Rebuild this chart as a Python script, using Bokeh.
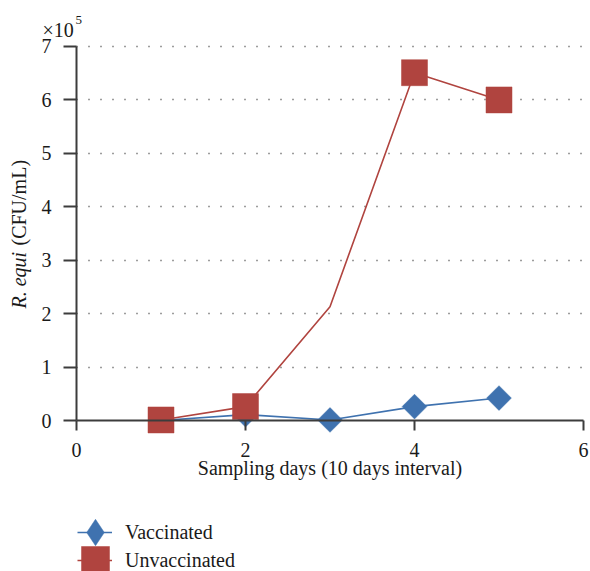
import math
from bokeh.plotting import figure
from bokeh.models import (Range1d, FixedTicker, Label, Legend, LegendItem,
                          ColumnDataSource, CDSView, BooleanFilter)
from bokeh.embed import file_html
from bokeh.resources import INLINE

# ---- data (values in units of 10^5 CFU/mL) ----
days = [1, 2, 3, 4, 5]
vaccinated = [0.0, 0.11, 0.01, 0.26, 0.42]
unvaccinated = [0.01, 0.26, 2.13, 6.51, 6.0]
unvacc_marker_shown = [True, True, False, True, True]
x_ticks = [0, 2, 4, 6]
y_ticks = [0, 1, 2, 3, 4, 5, 6, 7]
x_bounds = (0, 6)
y_bounds = (0, 7)

BLUE = "#3F72AF"
RED = "#B0443F"
FONT = "Liberation Serif"
AXIS_COLOR = "#3c3c3c"
TXT = "#1a1a1a"

W, H = 590, 571
# frame covers the whole canvas; axes are drawn at fixed locations inside it
x_px0, x_unit = 76.0, 84.5      # pixel of x=0, pixels per x unit
y_px0, y_unit = 420.0, 53.4286  # pixel of y=0 (from top), pixels per y unit
xr = Range1d(-x_px0 / x_unit, (W - x_px0) / x_unit)
yr = Range1d(-(H - y_px0) / y_unit, y_px0 / y_unit)

p = figure(width=W, height=H, x_range=xr, y_range=yr,
           output_backend="svg", toolbar_location=None,
           min_border=0, min_border_left=0, min_border_right=0,
           min_border_top=0, min_border_bottom=0)
p.outline_line_color = None
p.background_fill_color = "white"
p.border_fill_color = "white"

# grid
p.xgrid.visible = False
p.ygrid.ticker = FixedTicker(ticks=y_ticks[1:])
p.ygrid.cross_bounds = x_bounds
p.ygrid.grid_line_color = "#3a3a3a"
p.ygrid.grid_line_width = 1.6
p.ygrid.grid_line_dash = "1 11"

# x axis at y = 0
xa = p.xaxis[0]
xa.ticker = FixedTicker(ticks=x_ticks)
xa.fixed_location = 0
xa.bounds = x_bounds
xa.axis_line_color = AXIS_COLOR
xa.axis_line_width = 2
xa.major_tick_line_color = AXIS_COLOR
xa.major_tick_line_width = 2
xa.major_tick_in = 0
xa.major_tick_out = 10
xa.minor_tick_line_color = None
xa.major_label_text_font = FONT
xa.major_label_text_font_size = "20px"
xa.major_label_text_color = TXT
xa.major_label_standoff = 12
xa.axis_label = "Sampling days (10 days interval)"
xa.axis_label_text_font = FONT
xa.axis_label_text_font_size = "20px"
xa.axis_label_text_font_style = "normal"
xa.axis_label_text_color = TXT
xa.axis_label_standoff = -3

# y axis at x = 0
ya = p.yaxis[0]
ya.ticker = FixedTicker(ticks=y_ticks)
ya.fixed_location = 0
ya.bounds = y_bounds
ya.axis_line_color = AXIS_COLOR
ya.axis_line_width = 2
ya.major_tick_line_color = AXIS_COLOR
ya.major_tick_line_width = 2
ya.major_tick_in = 0
ya.major_tick_out = 13
ya.minor_tick_line_color = None
ya.major_label_text_font = FONT
ya.major_label_text_font_size = "20px"
ya.major_label_text_color = TXT
ya.major_label_standoff = 12

# series
src_v = ColumnDataSource(dict(x=days, y=vaccinated))
src_u = ColumnDataSource(dict(x=days, y=unvaccinated))
src_v_key = ColumnDataSource(dict(x=days[:1], y=vaccinated[:1]))

lv = p.line("x", "y", source=src_v, line_color=BLUE, line_width=1.6)
sv = p.scatter("x", "y", source=src_v, marker="square", angle=math.pi / 4, size=17.5,
               fill_color=BLUE, line_color=BLUE, line_width=0.5)
# diamond used for the legend swatch (legend swatches ignore marker angle);
# its one point sits under the first unvaccinated square
sv_key = p.scatter("x", "y", source=src_v_key, marker="diamond", size=22,
                   fill_color=BLUE, line_color=BLUE, line_width=0.5)
lu = p.line("x", "y", source=src_u, line_color=RED, line_width=1.6)
su = p.scatter("x", "y", source=src_u, marker="square", size=26,
               fill_color=RED, line_color=RED, line_width=0.5,
               view=CDSView(filter=BooleanFilter(unvacc_marker_shown)))

# y-axis title (mixed italic)
p.add_layout(Label(x=-0.6746, y=2.096, text="R. equi", angle=math.pi / 2,
                   text_align="left", text_baseline="middle", text_font=FONT,
                   text_font_style="italic", text_font_size="20px", text_color=TXT))
p.add_layout(Label(x=-0.6746, y=3.275, text="(CFU/mL)", angle=math.pi / 2,
                   text_align="left", text_baseline="middle", text_font=FONT,
                   text_font_size="20px", text_color=TXT))
# multiplier
p.add_layout(Label(x=-0.4024, y=7.318, text="×10", text_align="left", text_baseline="alphabetic",
                   text_font=FONT, text_font_size="20px", text_color=TXT))
p.add_layout(Label(x=-0.0118, y=7.487, text="5", text_align="left", text_baseline="alphabetic",
                   text_font=FONT, text_font_size="13px", text_color=TXT))

# legends: lines with labels, markers overlaid at the same centres
def base_legend(**kw):
    return Legend(border_line_color=None, background_fill_alpha=0, padding=0, margin=0,
                  spacing=0, label_text_font=FONT, label_text_font_size="20px",
                  label_text_color=TXT, **kw)

leg_lines = base_legend(items=[LegendItem(label="Vaccinated", renderers=[lv]),
                               LegendItem(label="Unvaccinated", renderers=[lu])],
                        glyph_width=35, glyph_height=28, label_height=28, label_standoff=13,
                        location=(77, -3))
leg_dia = base_legend(items=[LegendItem(label=" ", renderers=[sv_key])],
                      glyph_width=66, glyph_height=66, label_standoff=0, location=(61.5, 6))
leg_sq = base_legend(items=[LegendItem(label=" ", renderers=[su])],
                     glyph_width=70, glyph_height=70, label_standoff=0, location=(59.5, -24))
p.add_layout(leg_lines)
p.add_layout(leg_dia)
p.add_layout(leg_sq)

open("out.html", "w").write(file_html(p, INLINE))
